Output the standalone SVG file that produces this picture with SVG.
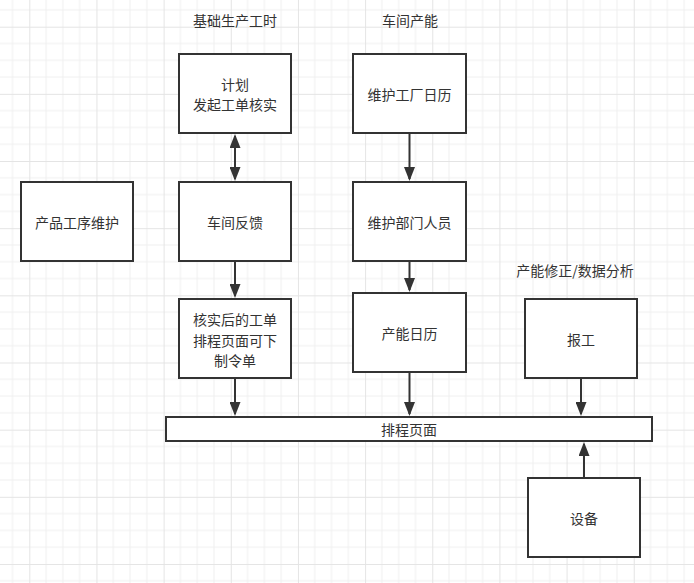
<svg xmlns="http://www.w3.org/2000/svg" width="694" height="583" viewBox="0 0 694 583">
<style>
.box{fill:#fff;stroke:#333;stroke-width:2}
.t{font-family:"Noto Sans CJK SC","Noto Sans",sans-serif;font-size:14px;fill:#333;text-anchor:middle;dominant-baseline:central}
.c{stroke:#333;stroke-width:2;fill:none}
</style>
<defs>
<pattern id="grid" patternUnits="userSpaceOnUse" x="29.3" y="26.7" width="67.16" height="67.16">
<path d="M16.79 0V67.16M33.58 0V67.16M50.37 0V67.16M0 16.79H67.16M0 33.58H67.16M0 50.37H67.16" stroke="#efefef" stroke-width="1" fill="none"/>
<path d="M0.5 0V67.16M0 0.5H67.16" stroke="#e4e4e4" stroke-width="1" fill="none"/>
</pattern>
<marker id="ah" markerUnits="userSpaceOnUse" markerWidth="14" markerHeight="11" refX="12" refY="5.5" orient="auto-start-reverse">
<path d="M0,0 L14,5.5 L0,11 Z" fill="#333"/>
</marker>
</defs>
<rect width="694" height="583" fill="#fff"/>
<rect width="694" height="583" fill="url(#grid)"/>

<g id="title-jichu"><text class="t" x="235" y="20">基础生产工时</text></g>
<g id="title-chejian"><text class="t" x="410" y="20">车间产能</text></g>
<g id="title-channeng"><text class="t" x="575" y="270">产能修正/数据分析</text></g>

<g id="connectors">
<line class="c" x1="235" y1="136" x2="235" y2="179" marker-start="url(#ah)" marker-end="url(#ah)"/>
<line class="c" x1="409.5" y1="134" x2="409.5" y2="179" marker-end="url(#ah)"/>
<line class="c" x1="235" y1="261" x2="235" y2="296" marker-end="url(#ah)"/>
<line class="c" x1="409.5" y1="261" x2="409.5" y2="290" marker-end="url(#ah)"/>
<line class="c" x1="235" y1="378" x2="235" y2="414" marker-end="url(#ah)"/>
<line class="c" x1="409.5" y1="372" x2="409.5" y2="414" marker-end="url(#ah)"/>
<line class="c" x1="581" y1="378" x2="581" y2="414" marker-end="url(#ah)"/>
<line class="c" x1="584" y1="478" x2="584" y2="444" marker-end="url(#ah)"/>
</g>

<g id="node-jihua"><rect class="box" x="179" y="54" width="112" height="79"/><text class="t" x="235" y="83.5">计划</text><text class="t" x="235" y="104">发起工单核实</text></g>
<g id="node-weihugongchang"><rect class="box" x="353" y="54" width="113" height="79"/><text class="t" x="409.5" y="93.5">维护工厂日历</text></g>
<g id="node-chanpin"><rect class="box" x="21" y="182" width="112" height="79"/><text class="t" x="77" y="221.5">产品工序维护</text></g>
<g id="node-fankui"><rect class="box" x="179" y="182" width="112" height="79"/><text class="t" x="235" y="221.5">车间反馈</text></g>
<g id="node-bumen"><rect class="box" x="353" y="182" width="113" height="79"/><text class="t" x="409.5" y="221.5">维护部门人员</text></g>
<g id="node-heshi"><rect class="box" x="179" y="299" width="112" height="79"/><text class="t" x="235" y="319">核实后的工单</text><text class="t" x="235" y="339.5">排程页面可下</text><text class="t" x="235" y="360">制令单</text></g>
<g id="node-rili"><rect class="box" x="353" y="293" width="113" height="79"/><text class="t" x="409.5" y="332.5">产能日历</text></g>
<g id="node-baogong"><rect class="box" x="525" y="299" width="112" height="79"/><text class="t" x="581" y="338.5">报工</text></g>
<g id="node-paicheng"><rect class="box" x="166" y="417" width="486" height="24"/><text class="t" x="409" y="429">排程页面</text></g>
<g id="node-shebei"><rect class="box" x="528" y="478" width="112" height="79"/><text class="t" x="584" y="517.5">设备</text></g>
</svg>
